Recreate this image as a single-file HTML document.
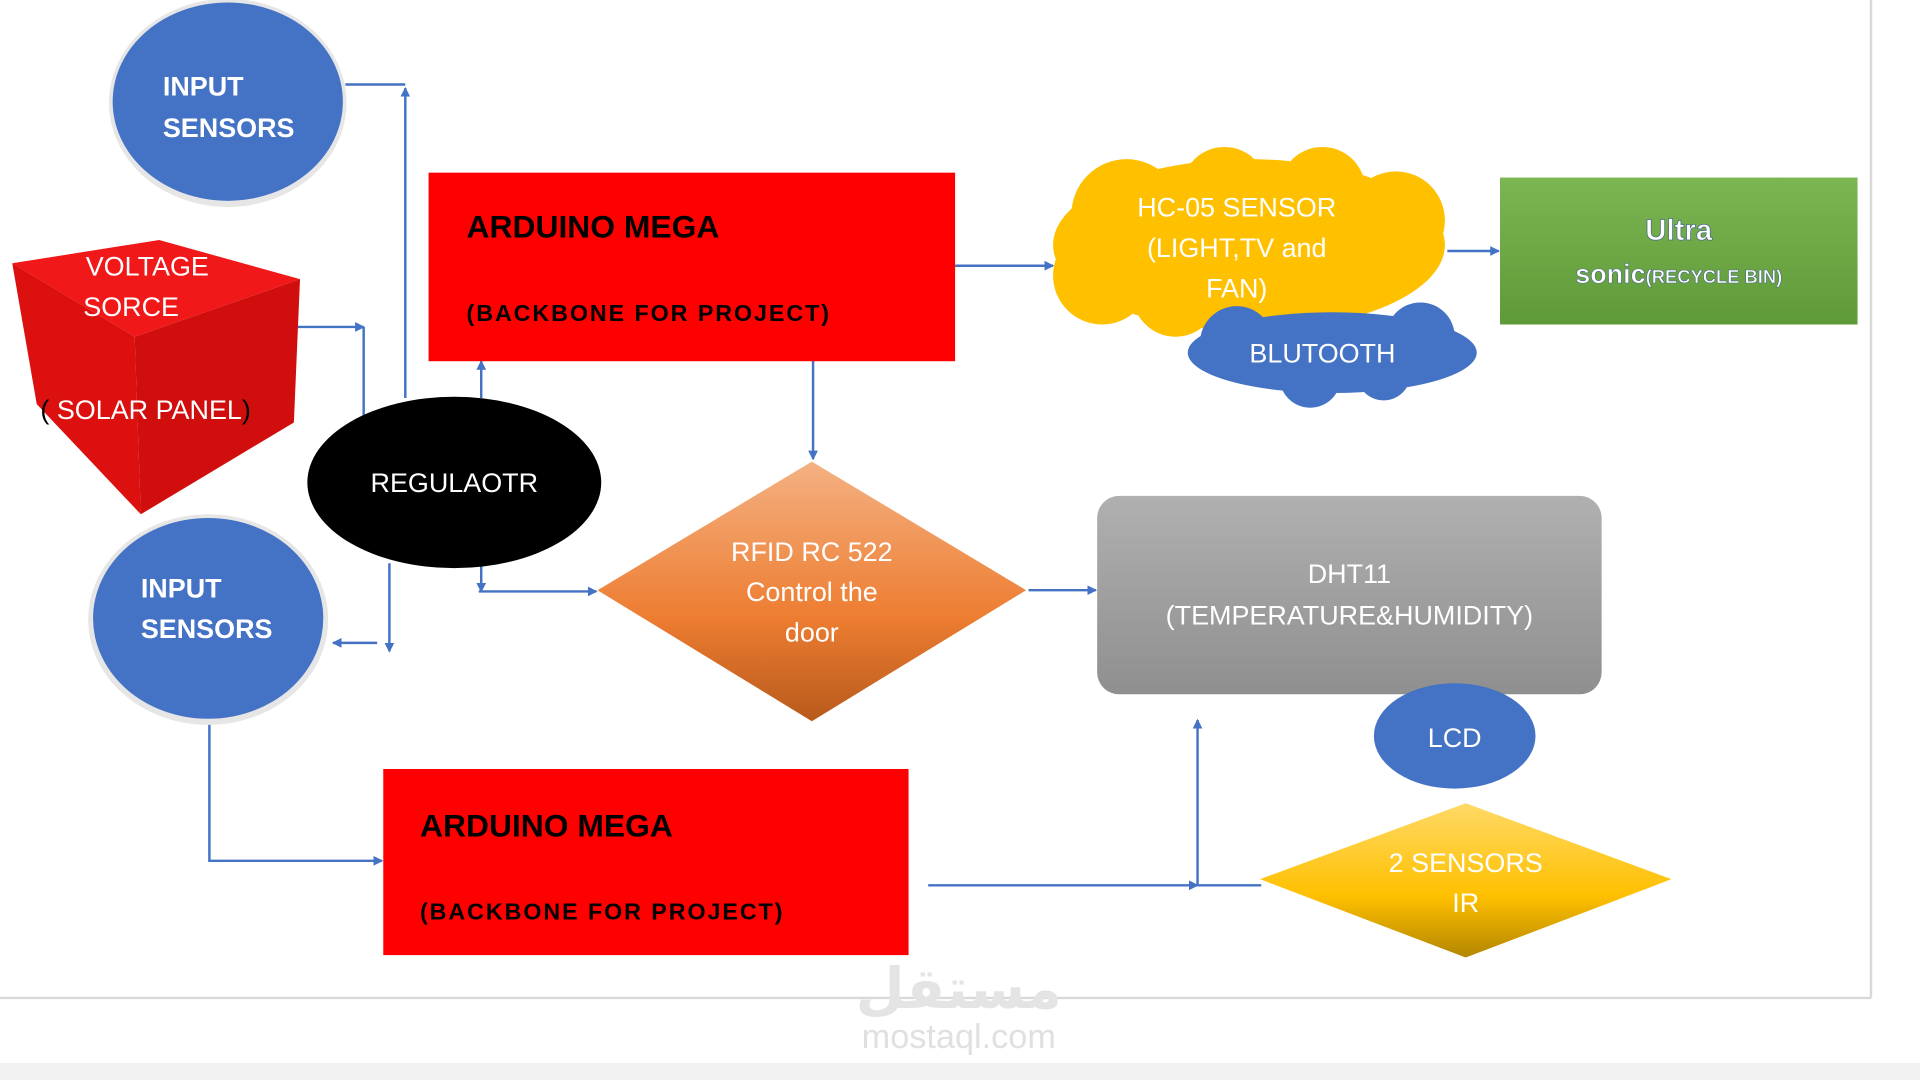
<!DOCTYPE html>
<html><head><meta charset="utf-8"><style>
html,body{margin:0;padding:0;width:1920px;height:1080px;overflow:hidden;background:#fff}
#s{position:absolute;left:0;top:0;width:1568px;height:882px;transform:scale(1.22449);transform-origin:0 0;font-family:"Liberation Sans",sans-serif}
</style></head><body><div id="s">
<svg width="1568" height="882" viewBox="0 0 1568 882" xmlns="http://www.w3.org/2000/svg" font-family="Liberation Sans, sans-serif">
<defs>
<marker id="a" markerWidth="8" markerHeight="8" refX="7" refY="4" orient="auto" markerUnits="userSpaceOnUse"><path d="M0,0 L8,4 L0,8z" fill="#4472c4"/></marker>
<linearGradient id="or" x1="0" y1="0" x2="0" y2="1"><stop offset="0" stop-color="#f4b183"/><stop offset="0.6" stop-color="#ed7d31"/><stop offset="1" stop-color="#b85a1c"/></linearGradient>
<linearGradient id="ye" x1="0" y1="0" x2="0" y2="1"><stop offset="0" stop-color="#ffd966"/><stop offset="0.6" stop-color="#ffc000"/><stop offset="1" stop-color="#b38600"/></linearGradient>
<linearGradient id="gr" x1="0" y1="0" x2="0" y2="1"><stop offset="0" stop-color="#b0b0b0"/><stop offset="1" stop-color="#8f8f8f"/></linearGradient>
<linearGradient id="gn" x1="0" y1="0" x2="0" y2="1"><stop offset="0" stop-color="#7cb653"/><stop offset="1" stop-color="#5f9a38"/></linearGradient>
</defs>
<rect x="0" y="868" width="1568" height="14" fill="#f2f2f2"/>
<line x1="1528" y1="0" x2="1528" y2="815" stroke="#d9d9d9" stroke-width="2"/>
<line x1="0" y1="815" x2="1528" y2="815" stroke="#d9d9d9" stroke-width="2"/>
<g stroke="#4472c4" stroke-width="2" fill="none">
<polyline points="282,69 331,69"/><line x1="331" y1="325" x2="331" y2="72" marker-end="url(#a)"/>
<polyline points="240,267 297,267" marker-end="url(#a)"/><line x1="297" y1="267" x2="297" y2="345"/>
<line x1="393" y1="325" x2="393" y2="295" marker-end="url(#a)"/>
<line x1="664" y1="290" x2="664" y2="375" marker-end="url(#a)"/>
<line x1="780" y1="217" x2="860" y2="217" marker-end="url(#a)"/>
<line x1="1182" y1="205" x2="1224" y2="205" marker-end="url(#a)"/>
<line x1="393" y1="460" x2="393" y2="483" marker-end="url(#a)"/><line x1="391" y1="483" x2="487" y2="483" marker-end="url(#a)"/>
<line x1="318" y1="460" x2="318" y2="532" marker-end="url(#a)"/><line x1="308" y1="525" x2="272" y2="525" marker-end="url(#a)"/>
<line x1="840" y1="482" x2="895" y2="482" marker-end="url(#a)"/>
<polyline points="171,590 171,703 312,703" marker-end="url(#a)"/>
<line x1="758" y1="723" x2="978" y2="723" marker-end="url(#a)"/><line x1="978" y1="723" x2="1030" y2="723"/>
<line x1="978" y1="723" x2="978" y2="588" marker-end="url(#a)"/>
</g>
<ellipse cx="186" cy="84" rx="97" ry="85" fill="#e6e6e6"/>
<ellipse cx="186" cy="83" rx="94" ry="81" fill="#4472c4"/>
<text x="133" y="78" fill="#fff" font-size="22" font-weight="bold">INPUT</text><text x="133" y="112" fill="#fff" font-size="22" font-weight="bold">SENSORS</text>
<polygon points="10,215 130,196 245,228 110,275" fill="#f01818"/>
<polygon points="10,215 110,275 115,420 30,330" fill="#dd1010"/>
<polygon points="110,275 245,228 240,345 115,420" fill="#d00e0e"/>
<text x="70" y="225" fill="#fff" font-size="22">VOLTAGE</text><text x="68" y="258" fill="#fff" font-size="22">SORCE</text>
<text x="33" y="342" fill="#fff" font-size="22"><tspan fill="#000">(</tspan> SOLAR PANEL<tspan fill="#000">)</tspan></text>
<ellipse cx="371" cy="394" rx="120" ry="70" fill="#000"/>
<text x="371" y="402" fill="#fff" font-size="22" text-anchor="middle">REGULAOTR</text>
<ellipse cx="170" cy="506" rx="98" ry="86" fill="#e6e6e6"/>
<ellipse cx="170" cy="505" rx="94" ry="82" fill="#4472c4"/>
<text x="115" y="488" fill="#fff" font-size="22" font-weight="bold">INPUT</text><text x="115" y="521" fill="#fff" font-size="22" font-weight="bold">SENSORS</text>
<rect x="350" y="141" width="430" height="154" fill="#ff0000"/>
<text x="381" y="194" font-size="26" font-weight="bold">ARDUINO MEGA</text>
<text x="381" y="262" font-size="19" font-weight="bold" textLength="296">(BACKBONE FOR PROJECT)</text>
<rect x="313" y="628" width="429" height="152" fill="#ff0000"/>
<text x="343" y="683" font-size="26" font-weight="bold">ARDUINO MEGA</text>
<text x="343" y="751" font-size="19" font-weight="bold" textLength="296">(BACKBONE FOR PROJECT)</text>
<g fill="#ffc000">
<ellipse cx="1020" cy="200" rx="160" ry="70"/><circle cx="920" cy="175" r="45"/><circle cx="1000" cy="155" r="35"/><circle cx="1080" cy="155" r="35"/><circle cx="1140" cy="180" r="40"/><circle cx="900" cy="225" r="40"/><circle cx="960" cy="240" r="35"/>
</g>
<text x="1010" y="177" fill="#fff" font-size="22" text-anchor="middle">HC-05 SENSOR</text>
<text x="1010" y="210" fill="#fff" font-size="22" text-anchor="middle">(LIGHT,TV and</text>
<text x="1010" y="243" fill="#fff" font-size="22" text-anchor="middle">FAN)</text>
<g fill="#4472c4">
<ellipse cx="1088" cy="288" rx="118" ry="33"/><circle cx="1010" cy="280" r="30"/><circle cx="1160" cy="275" r="28"/><circle cx="1070" cy="308" r="25"/><circle cx="1130" cy="305" r="22"/>
</g>
<text x="1080" y="296" fill="#fff" font-size="22" text-anchor="middle">BLUTOOTH</text>
<rect x="1225" y="145" width="292" height="120" fill="url(#gn)"/>
<text x="1371" y="196" fill="#fff" font-size="24" font-weight="bold" text-anchor="middle" stroke="#4a6a8a" stroke-width="0.6">Ultra</text>
<text x="1371" y="231" fill="#fff" text-anchor="middle" font-weight="bold" stroke="#4a6a8a" stroke-width="0.5"><tspan font-size="22">sonic</tspan><tspan font-size="15">(RECYCLE BIN)</tspan></text>
<polygon points="663,377 838,482 663,589 488,482" fill="url(#or)"/>
<text x="663" y="458" fill="#fff" font-size="22" text-anchor="middle">RFID RC 522</text>
<text x="663" y="491" fill="#fff" font-size="22" text-anchor="middle">Control the</text>
<text x="663" y="524" fill="#fff" font-size="22" text-anchor="middle">door</text>
<rect x="896" y="405" width="412" height="162" rx="18" fill="url(#gr)"/>
<text x="1102" y="476" fill="#fff" font-size="22" text-anchor="middle">DHT11</text>
<text x="1102" y="510" fill="#fff" font-size="22" text-anchor="middle">(TEMPERATURE&amp;HUMIDITY)</text>
<ellipse cx="1188" cy="601" rx="66" ry="43" fill="#4472c4"/>
<text x="1188" y="610" fill="#fff" font-size="22" text-anchor="middle">LCD</text>
<polygon points="1197,656 1365,718 1197,782 1029,718" fill="url(#ye)"/>
<text x="1197" y="712" fill="#fff" font-size="22" text-anchor="middle">2 SENSORS</text>
<text x="1197" y="745" fill="#fff" font-size="22" text-anchor="middle">IR</text>
<text x="783" y="823" fill="#e4e4e4" font-size="46" font-weight="bold" text-anchor="middle" font-family="DejaVu Sans, sans-serif">مستقل</text>
<text x="783" y="856" fill="#e0e0e0" font-size="28" text-anchor="middle">mostaql.com</text>
</svg></div></body></html>
